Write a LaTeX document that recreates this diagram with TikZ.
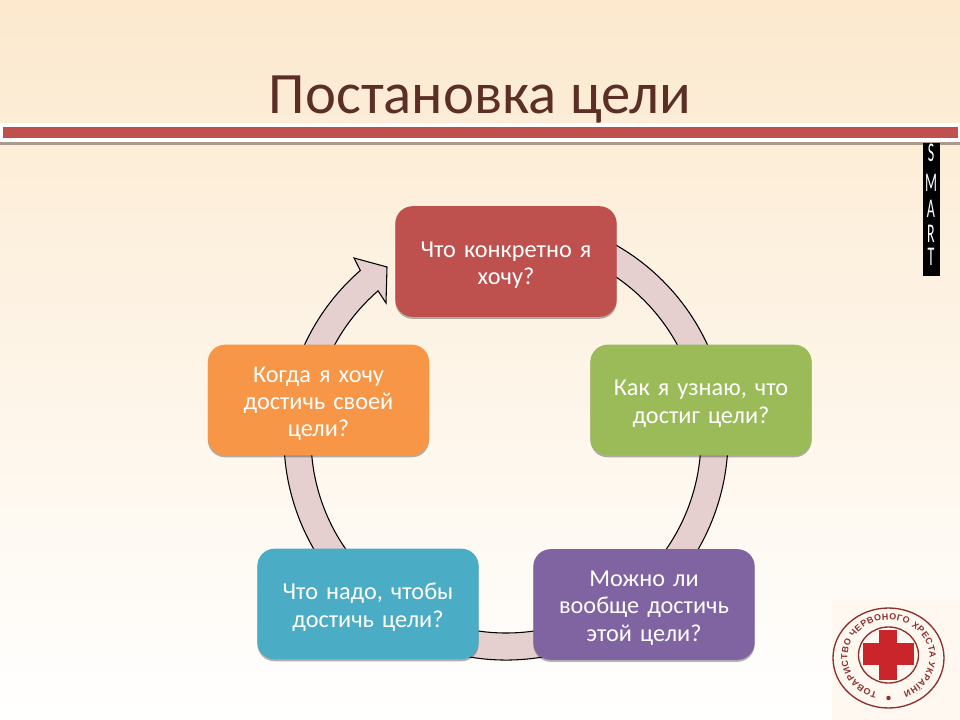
\documentclass[tikz,border=0pt]{standalone}
\usepackage{fontspec}
\usepackage{xcolor}
\usepackage{tikz}
\usetikzlibrary{shadows,decorations.text}
\setmainfont{Carlito}
\newfontfamily\logofont{Liberation Sans}
\definecolor{bgtop}{HTML}{FCE9CE}
\definecolor{titlebrown}{HTML}{5B2F26}
\definecolor{bandred}{HTML}{C0504D}
\definecolor{bandgray}{HTML}{A89A8C}
\definecolor{ringpink}{HTML}{E6CFCF}
\definecolor{goalred}{HTML}{BE504E}
\definecolor{goalgreen}{HTML}{9BBB59}
\definecolor{goalpurple}{HTML}{8064A2}
\definecolor{goalblue}{HTML}{4BACC6}
\definecolor{goalorange}{HTML}{F79646}
\definecolor{logored}{HTML}{C9252B}
\definecolor{logodark}{HTML}{8E2F2C}
\tikzset{
    goalbox/.style={rounded corners=13pt, minimum width=166pt, minimum height=83pt,
        text width=150pt, align=center, text=white, font=\fontsize{18.2}{20.5}\selectfont,
        execute at begin node={\rule{0pt}{17pt}},
        drop shadow={shadow xshift=0pt, shadow yshift=-1.5pt, fill=black, opacity=0.3}},
    smartletter/.style={text=white, font=\fontsize{15}{15}\selectfont, xscale=0.7, yscale=1.35, inner sep=0pt}
}
\begin{document}
\begin{tikzpicture}[x=0.75pt,y=-0.75pt]
    \useasboundingbox (0,0) rectangle (960,720);
    \shade[top color=bgtop, bottom color=white] (0,0) rectangle (960,720);

    % Title and band
    \node[text=titlebrown, font=\fontsize{44}{52}\selectfont] (title) at (480,99) {Постановка цели};
    \fill[white] (0,123) rectangle (960,142);
    \fill[bandred] (3,127) rectangle (958,138);
    \fill[bandgray] (0,142) rectangle (960,145);

    % Ring arrow
    \draw[fill=ringpink, draw=black, line width=0.8pt, line join=miter, shift={(506,438)}]
        (-75:222) arc[start angle=-75, end angle=229, radius=222]
        -- (-152,-180) -- (-119,-171) -- (-120,-135) -- (229:195)
        arc[start angle=229, end angle=-75, radius=195] -- cycle;

    % Boxes
    \node[goalbox, fill=goalred] (what) at (506,261.5) {Что конкретно я\\хочу?};
    \node[goalbox, fill=goalgreen] (how) at (701,400) {Как я узнаю, что\\достиг цели?};
    \node[goalbox, fill=goalpurple] (can) at (644,604.5) {Можно ли\\вообще достичь\\этой цели?};
    \node[goalbox, fill=goalblue] (need) at (368,604) {Что надо, чтобы\\достичь цели?};
    \node[goalbox, fill=goalorange] (when) at (318.5,400) {Когда я хочу\\достичь своей\\цели?};

    % Black strip
    \fill[black] (923,143) rectangle (940,276);
    \foreach \letter/\y in {S/153,M/183,A/209,R/234,T/257} {
        \node[smartletter] (smart\letter) at (931,\y) {\letter};
    }

    % Logo
    \fill[white!70!bgtop] (832,600) rectangle (960,720);
    \draw[logodark, line width=1pt] (888.5,658) ellipse[x radius=55.5, y radius=50];
    \draw[logodark, line width=1pt] (888.5,655) ellipse[x radius=30, y radius=28];
    \fill[logored] (879,630) rectangle (897,680);
    \fill[logored] (863,643) rectangle (914,665);
    \fill[logodark] (888.5,698) circle[radius=2.2];
    \path[decorate, decoration={text along path, text align={fit to path},
            text={|\logofont\bfseries\fontsize{6.7}{7}\selectfont\color{logodark}|ТОВАРИСТВО ЧЕРВОНОГО ХРЕСТА УКРАЇНИ}}]
        (888.5,657) ++(106:41 and 37) arc[start angle=106, end angle=429, x radius=41, y radius=37];
\end{tikzpicture}
\end{document}
